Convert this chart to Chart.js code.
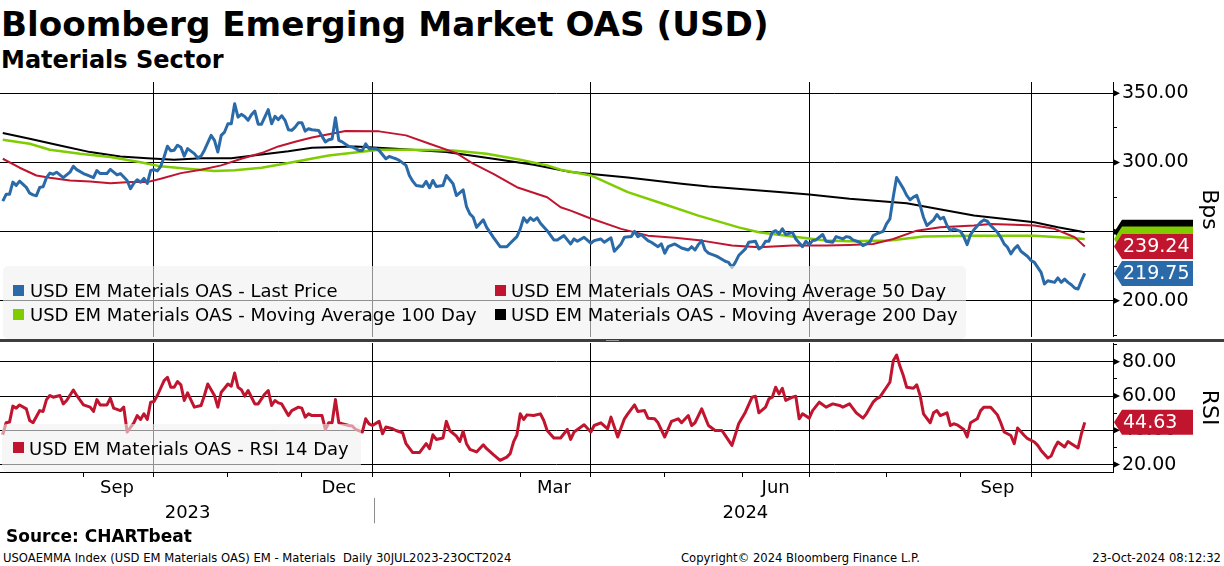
<!DOCTYPE html>
<html>
<head>
<meta charset="utf-8">
<title>Bloomberg Emerging Market OAS (USD)</title>
<script src="https://cdn.jsdelivr.net/npm/chart.js@4.4.1/dist/chart.umd.min.js"></script>
<style>
  html, body { margin:0; padding:0; background:#fff; }
  body { width:1224px; height:566px; position:relative; overflow:hidden; font-family:"DejaVu Sans", sans-serif; color:#000; }
  .abs { position:absolute; white-space:nowrap; }
  #title { left:1px; top:7px; font-size:34.2px; line-height:34px; font-weight:bold; }
  #subtitle { left:1px; top:48px; font-size:24px; line-height:24px; font-weight:bold; }
  #oasChart { position:absolute; left:0; top:82px; }
  #rsiChart { position:absolute; left:0; top:342px; }
  #sep { left:0; top:339px; width:1224px; height:3px; background:#3d3d3d; }
  #grip { left:606px; top:339px; width:13px; height:1px; border-bottom:1px solid #9a9a9a; }
  .legend { position:absolute; background:rgba(240,240,240,0.6); border-radius:5px; }
  .sw { position:absolute; width:11px; height:11px; }
  .lt { position:absolute; white-space:nowrap; font-size:18px; line-height:18px; }
  #source { left:6px; top:528px; font-size:17px; line-height:17px; font-weight:bold; }
  .foot { top:552px; font-size:11.6px; line-height:12px; }
</style>
</head>
<body>
<div id="title" class="abs">Bloomberg Emerging Market OAS (USD)</div>
<div id="subtitle" class="abs">Materials Sector</div>

<canvas id="oasChart" width="1224" height="255"></canvas>
<canvas id="rsiChart" width="1224" height="188"></canvas>
<div id="sep" class="abs"></div>
<div id="grip" class="abs"></div>

<div class="legend" style="left:3px;top:266px;width:963px;height:73px;"></div>
<div class="sw" style="left:13px;top:285px;background:#2a6aa8;"></div>
<div class="lt" style="left:30px;top:282px;">USD EM Materials OAS - Last Price</div>
<div class="sw" style="left:495px;top:285px;background:#c0142f;"></div>
<div class="lt" style="left:511px;top:282px;">USD EM Materials OAS - Moving Average 50 Day</div>
<div class="sw" style="left:13px;top:309px;background:#7fcc00;"></div>
<div class="lt" style="left:30px;top:306px;">USD EM Materials OAS - Moving Average 100 Day</div>
<div class="sw" style="left:495px;top:309px;background:#000;"></div>
<div class="lt" style="left:511px;top:306px;">USD EM Materials OAS - Moving Average 200 Day</div>

<div class="legend" style="left:2px;top:424px;width:359px;height:48px;"></div>
<div class="sw" style="left:13px;top:442px;background:#c0142f;"></div>
<div class="lt" style="left:29px;top:440px;">USD EM Materials OAS - RSI 14 Day</div>

<div id="source" class="abs">Source: CHARTbeat</div>
<div class="abs foot" style="left:3px;">USOAEMMA Index (USD EM Materials OAS) EM - Materials&nbsp; Daily 30JUL2023-23OCT2024</div>
<div class="abs foot" style="left:681px;">Copyright© 2024 Bloomberg Finance L.P.</div>
<div class="abs foot" style="right:3px;">23-Oct-2024 08:12:32</div>

<script>
// trading day number since 31 Jul 2023, value
const lastPrice = [[0,272],[1,277],[2,277],[3,285.8],[4,283.4],[5,286.5],[7,282],[8,277.8],[9,276.6],[10,276],[11,282],[12,282.5],[13,289],[14,292.3],[15,291.5],[16,293],[18,289],[20,293],[21,297.2],[22,294.8],[24,292],[25,291],[27,289],[28,294.2],[29,292],[31,292],[32,295],[34,291],[35,292],[37,287],[38,281],[39,285],[40,287.5],[41,285.7],[42,288.5],[43,284.8],[44,294.2],[45,294.8],[46,293.9],[47,297.2],[48,304],[49,311.8],[50,308.4],[51,308.9],[52,312.5],[53,311],[54,304.6],[55,310],[57,306.4],[58,303.4],[59,304.6],[60,308.9],[62,319.6],[63,316],[64,307.6],[65,319.6],[66,322],[67,328],[68,328],[69,342.5],[70,332.8],[71,334.8],[72,333.3],[73,330.5],[74,334.5],[75,337.2],[76,327.7],[77,327.7],[79,338.2],[80,328],[81,333.3],[82,331],[83,333.8],[84,330.5],[85,323.7],[86,323.2],[87,325.6],[88,328.8],[89,328.8],[90,322.7],[91,324.4],[92,323.7],[94,323.2],[96,314.9],[97,316.5],[98,317],[99,332.4],[100,316],[101,314.9],[103,311.6],[104,311.2],[106,308.7],[107,308.7],[108,313.5],[109,310],[111,310],[112,308.7],[114,302.7],[115,304.4],[116,303.5],[117,302.7],[118,301.5],[120,297.9],[121,290.6],[122,286.5],[123,283.4],[125,282.6],[126,286.3],[127,281.7],[128,287],[129,282.6],[131,283.4],[132,290.6],[134,284.6],[135,276.1],[137,280.2],[138,268.1],[139,262.8],[140,260.4],[141,253.1],[143,258.5],[144,253.1],[146,245.9],[148,239.1],[150,239.1],[151,241.6],[153,246.4],[154,252],[155,260],[156,256.8],[157,260],[158,258],[159,260],[160,256],[162,250.7],[164,244],[165,244],[167,247.1],[169,241.1],[170,244.7],[171,243],[173,245.9],[175,241.6],[176,243.5],[178,244.7],[179,242.3],[181,245.5],[182,235.8],[184,241.1],[185,245.9],[187,246.4],[188,250.2],[189,246.4],[190,247.9],[192,243.5],[193,242.3],[195,239.1],[196,241.1],[197,234.4],[198,239.1],[200,241.1],[202,238.2],[204,236.7],[205,239.1],[206,236.7],[207,240.6],[208,243.5],[209,236.7],[210,234.4],[212,232.7],[213,231.5],[215,228.6],[216,227.8],[217,224.2],[218,227.8],[219,232.7],[221,237.5],[222,242.3],[224,243],[225,237.5],[226,239.1],[227,243],[228,243],[229,249.5],[230,250.7],[231,248.3],[232,252],[233,247.9],[235,249.5],[236,244.7],[238,239.1],[239,243],[240,240.6],[241,243.5],[242,244],[244,247.9],[245,243],[247,242.3],[248,246.4],[250,244.7],[251,246.4],[252,245.9],[253,244],[255,242.3],[256,239.9],[258,242.3],[259,247.1],[260,248.3],[262,250.2],[263,255.6],[264,259.2],[265,275],[266,289.1],[267,285.2],[268,281.1],[269,276.2],[270,273],[271,275],[272,276.2],[273,269],[274,260.4],[275,254.4],[277,258.5],[278,262.4],[279,259.2],[280,260.4],[281,254.4],[282,250.7],[283,252],[285,250.2],[286,246.4],[287,240.6],[288,247.9],[289,251.3],[291,256.8],[292,258.5],[293,257.5],[294,254.4],[296,249.5],[297,245.9],[298,241.1],[299,238.7],[300,233.9],[301,237.5],[302,239.9],[303,235.8],[305,232],[306,229.1],[307,227.8],[308,224.2],[309,220.5],[310,212.1],[311,214.5],[313,213.3],[314,216.5],[315,213.3],[316,215.7],[317,213.3],[318,211.6],[319,209.2],[320,208.5],[321,214.5],[322,219.75]];
const ma50 = [[0,302.7],[5,296.2],[10,290.6],[14,288.9],[20,287],[26,286.2],[32,285],[38,285.8],[43,285.8],[47,288.2],[53,292.3],[59,294.8],[65,297.9],[71,302.7],[77,306.8],[82,311.6],[87,315],[92,318],[102,322.7],[112,322.5],[120,319.6],[127,313.5],[135,306.8],[140,299.1],[146,291.8],[153,282.1],[162,274.9],[166,267.6],[169,265.2],[174,260.4],[184,252],[192,247.1],[200,245.5],[208,243.5],[217,239.9],[225,238.7],[235,239.9],[245,239.9],[252,240.4],[259,241.1],[265,244.7],[272,250.7],[279,253.1],[289,254.4],[294,255.6],[301,254.9],[307,254.4],[313,252],[319,245.9],[322,239.24]];
const ma100 = [[0,316.4],[8,313.5],[14,309.2],[23,306.3],[32,303.9],[41,300.2],[47,297.2],[55,295.4],[63,293.9],[69,294.4],[77,296.2],[85,299.6],[97,305.1],[112,309.2],[122,309.2],[134,308.7],[144,306.3],[154,302],[162,297.9],[166,294.8],[175,290.6],[186,278.6],[196,270.5],[207,261.6],[219,253.1],[225,249.5],[235,246.4],[245,243.5],[252,243],[264,243.5],[274,246.4],[289,247.1],[307,247.1],[317,245.5],[322,244.7]];
const ma200 = [[0,321.3],[8,317.2],[17,312.3],[26,307.5],[35,304.3],[43,303.1],[51,302],[59,303.1],[68,303.1],[77,305.8],[85,308.2],[92,310.7],[105,311.6],[117,310],[132,307.5],[146,302.7],[158,298.4],[169,293.1],[186,289.1],[202,284.6],[210,282.6],[231,278.6],[240,276.8],[252,273.7],[269,270.5],[289,261.6],[307,256.8],[314,253.1],[322,249.5]];
const rsi14 = [[0,37.4],[1,44.4],[2,44.8],[3,54.1],[4,52.9],[5,54.8],[7,52.5],[8,45.7],[9,44.4],[11,51.5],[12,51],[13,57.9],[14,60.3],[15,59.3],[17,60.3],[18,55.4],[19,57.4],[21,63.5],[22,60.3],[24,54.8],[26,53.5],[27,51],[28,57.9],[29,54.8],[31,54.8],[32,58.7],[33,52.9],[35,51.5],[36,53.5],[37,39],[39,44.4],[40,48.6],[41,46.3],[42,49.6],[43,46.3],[44,56.4],[45,56.8],[46,60.3],[48,69],[49,70.9],[50,65.1],[51,65.1],[52,68.4],[53,66.5],[54,57.4],[55,61.8],[57,53.5],[59,54.5],[60,60.3],[61,67],[63,60.3],[64,53.5],[65,62.2],[66,64.5],[67,67],[68,65.7],[69,73.4],[70,65.1],[71,63.7],[72,59.9],[73,63.2],[75,55.4],[76,55.4],[78,61.2],[79,63.2],[80,54.5],[81,57.4],[82,56],[83,55.4],[85,48.6],[86,51.5],[88,53.5],[89,52.9],[90,47.7],[91,49.6],[92,48.6],[95,48.6],[96,40.5],[97,44.4],[98,44.4],[99,57.9],[100,44.4],[101,43.8],[103,42.8],[104,42.5],[105,40.5],[107,39],[108,46.7],[109,43.8],[110,42.8],[112,45.2],[113,38],[114,41.9],[116,40.9],[117,39.9],[119,38.6],[120,32.2],[122,27],[124,27],[126,32.2],[127,29.3],[128,37.4],[129,34.7],[131,35.5],[132,45.2],[133,39.9],[135,36.6],[136,33.5],[137,39.4],[138,32.2],[139,28.9],[141,27.4],[143,31.6],[144,29.3],[146,25.8],[148,22.5],[150,24.4],[151,26.4],[152,33.2],[153,37.4],[154,49.6],[155,46.3],[156,49],[158,48.6],[160,49.6],[161,45.7],[162,39.9],[164,35.5],[166,35.5],[168,40.5],[169,34.7],[170,39],[173,43.2],[175,39],[176,42.8],[178,44.4],[180,40.9],[181,47.7],[183,36.1],[185,46.7],[186,49.6],[188,54.8],[189,51],[191,51.5],[192,47.1],[194,46.7],[195,44.4],[197,36.1],[199,45.2],[201,46.7],[202,44.4],[204,48.6],[205,42.8],[206,44.4],[208,52.5],[210,42.8],[212,39.9],[214,39.9],[215,37],[217,31.2],[218,37.4],[219,43.8],[221,50.6],[223,59.3],[224,59.9],[225,50.2],[227,53.5],[228,58.3],[229,59.3],[230,65.1],[231,61.2],[232,64.5],[233,57.4],[235,59.3],[236,59.9],[237,46.7],[238,49.6],[240,47.1],[241,51.5],[243,56.4],[245,53.5],[247,55.4],[249,54.5],[250,53.5],[252,55.4],[254,50.2],[256,47.1],[257,49.6],[259,56.4],[260,58.3],[261,59.3],[263,65.1],[264,68],[265,80.6],[266,83.9],[267,77.3],[268,71.9],[269,65.1],[271,64.5],[272,66.5],[273,60.3],[274,49.6],[276,44.4],[277,50.2],[278,51.5],[279,48.6],[281,50.2],[282,42.8],[283,43.8],[284,43.2],[286,40.5],[287,36.1],[288,44.4],[290,46.7],[291,51.5],[292,53.5],[294,53.5],[296,49],[297,44.4],[298,39],[300,37],[301,32.2],[302,41.3],[304,37],[305,35.1],[307,33.2],[308,31.2],[309,28.3],[311,23.9],[312,25],[313,29.7],[314,33.2],[316,30.3],[317,33.5],[318,32.2],[320,29.7],[321,38],[322,44.63]];

// axis ticks (trading day numbers)
const monthStartDays = [24,45,67,89,110,133,154,175,197,220,240,263,285,306];
const quarterStartDays = [45,110,175,240,306];
const monthLabels = ['Sep','Dec','Mar','Jun','Sep'];
const monthLabelDays = [34,100,164,230,296];
const yearLabels = ['2023','','2024'];
const yearLabelDays = [55,110.5,221];
const oasTicks = [175,200,225,250,275,300,325,350];
const rsiTicks = [20,30,40,50,60,70,80,90];

const BLUE = '#2a6aa8', RED = '#c0142f', GREEN = '#7fcc00', BLACK = '#000';
const FONT = '"DejaVu Sans", sans-serif';
Chart.defaults.font.family = FONT;
Chart.defaults.color = '#000';

const xMin = -0.83, xMax = 330.4;
const toXY = arr => arr.map(p => ({x: p[0], y: p[1]}));
const last = arr => arr[arr.length - 1][1];

// arrow marks on labelled ticks + value tags on the right axis
const axisTags = {
  id: 'axisTags',
  afterDraw(chart, args, opts) {
    const ctx = chart.ctx;
    const sc = chart.scales[opts.axis];
    ctx.save();
    sc.ticks.forEach(t => {
      if (opts.major(t.value)) {
        const y = sc.getPixelForValue(t.value);
        ctx.fillStyle = '#000';
        ctx.beginPath();
        ctx.moveTo(sc.left, y - 3.5);
        ctx.lineTo(sc.left + 7, y);
        ctx.lineTo(sc.left, y + 3.5);
        ctx.closePath();
        ctx.fill();
      }
    });
    opts.tags.forEach(tag => {
      const y = sc.getPixelForValue(tag.value);
      const x0 = sc.left + 1, x1 = x0 + 79, h = 12.5;
      ctx.fillStyle = tag.color;
      ctx.beginPath();
      ctx.moveTo(x0, y);
      ctx.lineTo(x0 + 8, y - h);
      ctx.lineTo(x1, y - h);
      ctx.lineTo(x1, y + h);
      ctx.lineTo(x0 + 8, y + h);
      ctx.closePath();
      ctx.fill();
      if (tag.showText !== false) {
        ctx.fillStyle = '#fff';
        ctx.font = '19px ' + FONT;
        ctx.textBaseline = 'middle';
        ctx.textAlign = 'left';
        ctx.fillText(tag.value.toFixed(2), x0 + 9, y + 1);
      }
    });
    ctx.restore();
  }
};

function fixWidth(s) { s.width = 111; s.paddingTop = 0; s.paddingBottom = 0; }
function fixHeight(h) { return s => { s.height = h; s.paddingLeft = 0; s.paddingRight = 0; }; }

new Chart(document.getElementById('oasChart'), {
  type: 'line',
  data: {
    datasets: [
      {label: 'USD EM Materials OAS - Last Price', data: toXY(lastPrice), borderColor: BLUE, borderWidth: 3},
      {label: 'USD EM Materials OAS - Moving Average 50 Day', data: toXY(ma50), borderColor: RED, borderWidth: 2},
      {label: 'USD EM Materials OAS - Moving Average 100 Day', data: toXY(ma100), borderColor: GREEN, borderWidth: 2.5},
      {label: 'USD EM Materials OAS - Moving Average 200 Day', data: toXY(ma200), borderColor: BLACK, borderWidth: 2}
    ]
  },
  options: {
    responsive: false, animation: false, events: [],
    layout: {padding: 0},
    elements: {point: {radius: 0}, line: {tension: 0, borderJoinStyle: 'round'}},
    plugins: {
      legend: {display: false}, tooltip: {enabled: false},
      axisTags: {
        axis: 'y',
        major: v => v % 50 === 0,
        tags: [
          {value: last(ma200), color: BLACK, showText: false},
          {value: last(ma100), color: GREEN, showText: false},
          {value: last(ma50), color: RED},
          {value: last(lastPrice), color: BLUE}
        ]
      }
    },
    scales: {
      x: {
        type: 'linear', min: xMin, max: xMax,
        afterBuildTicks: s => { s.ticks = quarterStartDays.map(v => ({value: v})); },
        ticks: {display: false},
        grid: {color: '#000', lineWidth: 1, drawTicks: false},
        border: {display: false},
        afterFit: fixHeight(0)
      },
      y: {
        position: 'right', min: 173.8, max: 358.2,
        afterBuildTicks: s => { s.ticks = oasTicks.map(v => ({value: v})); },
        ticks: {autoSkip: false, padding: 5, font: {size: 19}, color: '#000',
                callback: v => v % 50 === 0 ? v.toFixed(2) : ''},
        grid: {
          color: c => (c.tick && c.tick.value % 50 === 0) ? '#000' : 'rgba(0,0,0,0)',
          tickColor: c => (c.tick && c.tick.value % 50 === 0) ? 'rgba(0,0,0,0)' : '#000',
          tickLength: 4, lineWidth: 1
        },
        border: {display: true, color: '#000', width: 1},
        title: {display: true, text: 'Bps', font: {size: 22}, color: '#000', padding: {top: 2, bottom: 0}},
        afterFit: fixWidth
      }
    }
  },
  plugins: [axisTags]
});

new Chart(document.getElementById('rsiChart'), {
  type: 'line',
  data: {
    datasets: [
      {label: 'USD EM Materials OAS - RSI 14 Day', data: toXY(rsi14), borderColor: RED, borderWidth: 3}
    ]
  },
  options: {
    responsive: false, animation: false, events: [],
    layout: {padding: {top: 1, left: 0, right: 0, bottom: 0}},
    elements: {point: {radius: 0}, line: {tension: 0, borderJoinStyle: 'round'}},
    plugins: {
      legend: {display: false}, tooltip: {enabled: false},
      axisTags: {
        axis: 'y',
        major: v => v % 20 === 0,
        tags: [{value: last(rsi14), color: RED}]
      }
    },
    scales: {
      x: {
        type: 'linear', min: xMin, max: xMax, position: 'bottom', weight: 0,
        afterBuildTicks: s => { s.ticks = monthStartDays.map(v => ({value: v})); },
        ticks: {display: false},
        grid: {
          color: c => (c.tick && quarterStartDays.includes(c.tick.value)) ? '#000' : 'rgba(0,0,0,0)',
          tickColor: '#000', tickLength: 5, lineWidth: 1
        },
        border: {display: true, color: '#000', width: 1},
        afterFit: fixHeight(0)
      },
      xMonth: {
        type: 'linear', min: xMin, max: xMax, position: 'bottom', weight: 1,
        afterBuildTicks: s => { s.ticks = monthLabelDays.map(v => ({value: v})); },
        ticks: {autoSkip: false, maxRotation: 0, minRotation: 0, padding: 6, font: {size: 18}, color: '#000',
                callback: (v, i) => monthLabels[i]},
        grid: {display: false, drawTicks: false},
        border: {display: false},
        afterFit: fixHeight(26.3)
      },
      xYear: {
        type: 'linear', min: xMin, max: xMax, position: 'bottom', weight: 2,
        afterBuildTicks: s => { s.ticks = yearLabelDays.map(v => ({value: v})); },
        ticks: {autoSkip: false, maxRotation: 0, minRotation: 0, padding: -21, font: {size: 18}, color: '#000',
                callback: (v, i) => yearLabels[i]},
        grid: {
          drawOnChartArea: false, tickLength: 25, lineWidth: 1,
          tickColor: c => (c.index === 1) ? '#8c8c8c' : 'rgba(0,0,0,0)'
        },
        border: {display: false},
        afterFit: fixHeight(31.7)
      },
      y: {
        position: 'right', min: 15.7, max: 90.9,
        afterBuildTicks: s => { s.ticks = rsiTicks.map(v => ({value: v})); },
        ticks: {autoSkip: false, padding: 5, font: {size: 19}, color: '#000',
                callback: v => v % 20 === 0 ? v.toFixed(2) : ''},
        grid: {
          color: c => (c.tick && c.tick.value % 20 === 0) ? '#000' : 'rgba(0,0,0,0)',
          tickColor: c => (c.tick && c.tick.value % 20 === 0) ? 'rgba(0,0,0,0)' : '#000',
          tickLength: 4, lineWidth: 1
        },
        border: {display: true, color: '#000', width: 1},
        title: {display: true, text: 'RSI', font: {size: 22}, color: '#000', padding: {top: 2, bottom: 0}},
        afterFit: fixWidth
      }
    }
  },
  plugins: [axisTags]
});
</script>
</body>
</html>
